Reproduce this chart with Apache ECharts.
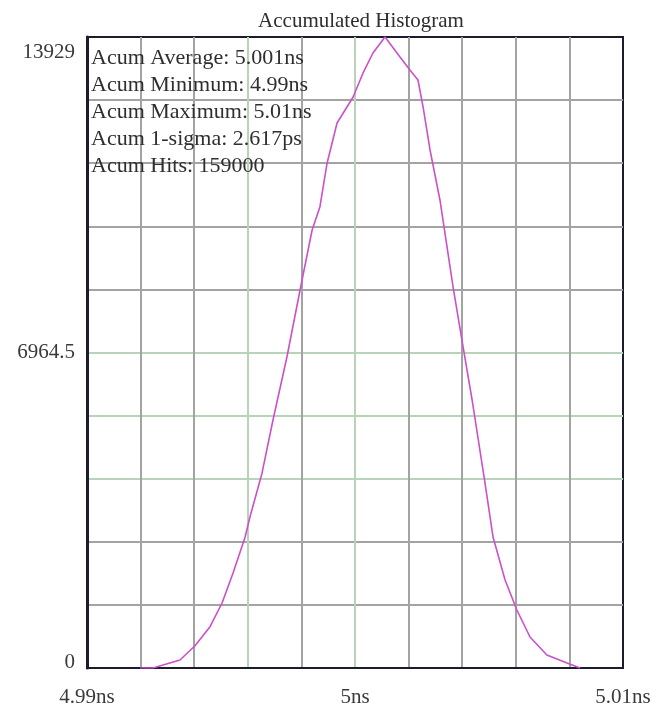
<!DOCTYPE html>
<html lang="en">
<head>
    <meta charset="UTF-8">
    <title>Accumulated Histogram</title>
    <script src="https://cdn.jsdelivr.net/npm/echarts@6/dist/echarts.min.js"></script>
</head>
<style>
html,body{margin:0;padding:0;background-color:#fff}
#chartBox{width:657px;height:711px}
</style>
<body>
    <div id="chartBox"></div>
</body>
<script>
// 横轴时间 (ns) 与累计命中数
const timeNs = [4.99198, 4.99246, 4.99284, 4.99347, 4.99403, 4.99459, 4.99504, 4.99545, 4.99590, 4.99608,
    4.99653, 4.99694, 4.99746, 4.99795, 4.99840, 4.99869, 4.99896, 4.99933, 4.99993, 5.00030,
    5.00067, 5.00112, 5.00168, 5.00205, 5.00235, 5.00254, 5.00280, 5.00317, 5.00366, 5.00403,
    5.00437, 5.00485, 5.00515, 5.00560, 5.00604, 5.00653, 5.00716, 5.00791, 5.00840];
const hitCounts = [0, 0, 66, 177, 492, 912, 1435, 2097, 2892, 3333,
    4300, 5475, 6865, 8344, 9669, 10177, 11148, 12031, 12605, 13135,
    13576, 13929, 13488, 13201, 12980, 12384, 11435, 10331, 8410, 7100,
    5916, 4084, 2892, 1943, 1280, 684, 287, 110, 0];

// 刻度标签
const xTickValues = [4.99, 5.00, 5.01];
const xTickLabels = ['4.99ns', '5ns', '5.01ns'];
const yTickValues = [0, 6964.5, 13929];
const yTickLabels = ['0', '6964.5', '13929'];

// 统计信息
const statLines = [
    'Acum Average: 5.001ns',
    'Acum Minimum: 4.99ns',
    'Acum Maximum: 5.01ns',
    'Acum 1-sigma: 2.617ps',
    'Acum Hits: 159000'
];

const gray = '#a3a3a3';
const green = '#b9d3b9';
const dark = '#1c1c2c';
const fontName = '"Liberation Serif", "DejaVu Serif", serif';

function findTick(list, v, eps) {
    for (let i = 0; i < list.length; i++) {
        if (Math.abs(list[i] - v) < eps) return i;
    }
    return -1;
}

let chartObj = echarts.init(document.getElementById('chartBox'));
let option = {
    animation: false,
    backgroundColor: '#fff',
    textStyle: {fontFamily: fontName},
    title: [
        {
            text: 'Accumulated Histogram',
            left: 356,
            top: 6,
            textAlign: 'center',
            textStyle: {fontFamily: fontName, fontSize: 21, fontWeight: 'normal', color: '#2e2e2e'}
        },
        {
            text: statLines.join('\n'),
            left: 91,
            top: 45,
            padding: 0,
            textStyle: {fontFamily: fontName, fontSize: 22, fontWeight: 'normal', color: '#2e2e2e', lineHeight: 27}
        }
    ],
    grid: {
        left: 87,
        right: 34,
        top: 37,
        bottom: 43,
        show: true,
        borderColor: dark,
        borderWidth: 2,
        backgroundColor: '#fff'
    },
    xAxis: {
        type: 'value',
        min: 4.99,
        max: 5.01,
        interval: 0.002,
        axisLine: {show: true, onZero: false, lineStyle: {color: dark, width: 2}},
        axisTick: {show: false},
        splitLine: {
            show: true,
            showMinLine: false,
            showMaxLine: false,
            // 只画内部的线, 第 3、5 条为浅绿色
            lineStyle: {color: [gray, gray, green, gray, green, gray, gray, gray, gray], width: 2}
        },
        axisLabel: {
            margin: 19,
            fontSize: 21,
            color: '#3a3a3a',
            fontFamily: fontName,
            showMinLabel: true,
            showMaxLabel: true,
            formatter: function (v) {
                let i = findTick(xTickValues, v, 1e-6);
                return i < 0 ? '' : xTickLabels[i];
            }
        }
    },
    yAxis: {
        type: 'value',
        min: 0,
        max: 13929,
        interval: 1392.9,
        axisLine: {show: true, onZero: false, lineStyle: {color: dark, width: 3}},
        axisTick: {show: false},
        splitLine: {
            show: true,
            showMinLine: false,
            showMaxLine: false,
            lineStyle: {color: [gray, gray, green, green, green, gray, gray, gray, gray], width: 2}
        },
        axisLabel: {
            margin: 12,
            fontSize: 21,
            color: '#3a3a3a',
            fontFamily: fontName,
            showMinLabel: true,
            showMaxLabel: true,
            formatter: function (v) {
                let i = findTick(yTickValues, v, 0.01);
                if (i < 0) return '';
                if (i === 0) return '{b|' + yTickLabels[i] + '}';
                if (i === yTickValues.length - 1) return '{t|' + yTickLabels[i] + '}';
                return yTickLabels[i];
            },
            rich: {
                t: {fontSize: 21, fontFamily: fontName, color: '#3a3a3a', padding: [30, 0, 0, 0]},
                b: {fontSize: 21, fontFamily: fontName, color: '#3a3a3a', padding: [0, 0, 12, 0]}
            }
        }
    },
    series: [
        {
            type: 'line',
            data: timeNs.map((t, i) => [t, hitCounts[i]]),
            symbol: 'none',
            smooth: false,
            lineStyle: {color: '#cc4fcc', width: 1.6},
            z: 5
        }
    ]
};
chartObj.setOption(option);
</script>
</html>
